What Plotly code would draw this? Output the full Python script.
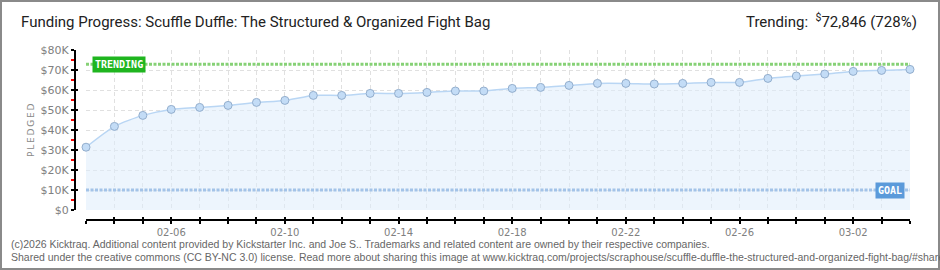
import plotly.graph_objects as go
import pandas as pd

# ---- data ----
dates = pd.date_range("2026-02-03", "2026-03-04", freq="D")
pledged = [31400, 41800, 47300, 50300, 51300, 52300, 53800, 54800, 57300, 57300,
           58300, 58300, 58800, 59500, 59500, 60800, 61300, 62300, 63300, 63300,
           63000, 63300, 63800, 63800, 65800, 67000, 68000, 69300, 69800, 70300]
trending = 72846
goal = 10000
y_ticks = [0, 10000, 20000, 30000, 40000, 50000, 60000, 70000, 80000]
y_labels = ["$0", "$10K", "$20K", "$30K", "$40K", "$50K", "$60K", "$70K", "$80K"]
x_label_dates = ["02-06", "02-10", "02-14", "02-18", "02-22", "02-26", "03-02"]

title_text = "Funding Progress: Scuffle Duffle: The Structured &amp; Organized Fight Bag"
trend_text = "Trending:  <sup>$</sup>72,846 (728%)"
footer1 = ("(c)2026 Kicktraq. Additional content provided by Kickstarter Inc. and Joe S.. "
           "Trademarks and related content are owned by their respective companies.")
footer2 = ("Shared under the creative commons (CC BY-NC 3.0) license. Read more about sharing "
           "this image at www.kicktraq.com/projects/scraphouse/scuffle-duffle-the-structured-and-organized-fight-bag/#share")

W, H = 940, 270
ML, MR, MT, MB = 75, 30, 50, 50
pw, ph = W - ML - MR, H - MT - MB
xd0 = 11 / pw
yd0 = 10 / ph


def px_x(x):
    return (x - ML) / pw


def px_y(y):
    return (H - MB - y) / ph


ticktext = [d.strftime("%m-%d") if d.strftime("%m-%d") in x_label_dates else "" for d in dates]

fig = go.Figure()

# main series
fig.add_trace(go.Scatter(
    x=dates, y=pledged, mode="lines+markers",
    line=dict(color="#b9d6f4", width=1.5, shape="spline", smoothing=0.6),
    fill="tozeroy", fillcolor="rgba(222,236,251,0.55)",
    marker=dict(size=8, color="#c3dcf6", line=dict(color="#93aecd", width=1)),
    cliponaxis=False, hoverinfo="skip", showlegend=False))

# trending line
fig.add_trace(go.Scatter(
    x=[dates[0], dates[-1]], y=[trending, trending], mode="lines",
    line=dict(color="#86d176", width=3, dash="3px,1.5px"),
    hoverinfo="skip", showlegend=False))
# goal line
fig.add_trace(go.Scatter(
    x=[dates[0], dates[-1]], y=[goal, goal], mode="lines",
    line=dict(color="#a3c3e8", width=3, dash="3px,1.5px"),
    hoverinfo="skip", showlegend=False))

grid = "#e0e0e0"
fig.update_layout(
    width=W, height=H, margin=dict(l=ML, r=MR, t=MT, b=MB),
    paper_bgcolor="white", plot_bgcolor="white",
    font=dict(family="Roboto, DejaVu Sans", color="#777777"),
    xaxis=dict(
        type="date", domain=[xd0, 1], anchor="free", position=0,
        range=[dates[0], dates[-1]],
        tickvals=list(dates), ticktext=ticktext,
        ticks="outside", ticklen=3, tickwidth=1.5, tickcolor="black",
        showline=True, linecolor="black", linewidth=2,
        showgrid=True, gridcolor=grid, griddash="4px,3px", gridwidth=1,
        tickfont=dict(size=10, color="#808080", family="DejaVu Sans"),
        zeroline=False, fixedrange=True),
    yaxis=dict(
        domain=[yd0, 1], anchor="free", position=0,
        range=[0, 80000], tickvals=y_ticks, ticktext=y_labels,
        ticks="outside", ticklen=3, tickwidth=1.5, tickcolor="black",
        minor=dict(dtick=5000, ticks="outside", ticklen=3, tickcolor="#ff0000", tickwidth=1.5, showgrid=False),
        showline=True, linecolor="black", linewidth=2,
        showgrid=True, gridcolor=grid, griddash="4px,3px", gridwidth=1,
        tickfont=dict(size=11, color="#808080", family="DejaVu Sans"),
        zeroline=False, fixedrange=True),
    # overlay axes giving the inner half of crossing ticks
    xaxis2=dict(
        type="date", overlaying="x", anchor="free", position=0, domain=[xd0, 1],
        range=[dates[0], dates[-1]], tickvals=list(dates), ticktext=[""] * len(dates),
        ticks="inside", ticklen=3, tickwidth=1.5, tickcolor="black",
        showgrid=False, zeroline=False, showline=False, showticklabels=False),
    yaxis2=dict(
        overlaying="y", anchor="free", position=0, domain=[yd0, 1],
        range=[0, 80000], tickvals=y_ticks,
        ticks="inside", ticklen=2, tickwidth=1.5, tickcolor="black",
        showgrid=False, zeroline=False, showline=False, showticklabels=False),
)
# dummy trace to activate overlay axes
fig.add_trace(go.Scatter(x=[dates[0]], y=[None], xaxis="x2", yaxis="y2",
                         showlegend=False, hoverinfo="skip"))

annots = []
annots.append(dict(text=title_text, xref="paper", yref="paper",
                   x=px_x(19), y=px_y(22), yanchor="middle",
                   xanchor="left", showarrow=False,
                   font=dict(size=15, color="#222222", family="Roboto")))
annots.append(dict(text=trend_text, xref="paper", yref="paper",
                   x=px_x(919), y=px_y(21), yanchor="middle",
                   xanchor="right", showarrow=False,
                   font=dict(size=15, color="#222222", family="Roboto")))
annots.append(dict(text="P\u2009L\u2009E\u2009D\u2009G\u2009E\u2009D", xref="paper", yref="paper",
                   x=px_x(31), y=px_y(130), textangle=-90, xanchor="center", yanchor="middle",
                   showarrow=False, font=dict(size=9, color="#888888", family="DejaVu Sans")))
annots.append(dict(text="<b>TRENDING</b>", x=dates[0], y=trending, xref="x", yref="y",
                   xanchor="left", yanchor="middle", xshift=6, showarrow=False,
                   bgcolor="#1fb51f", borderpad=2,
                   font=dict(size=10, color="white", family="DejaVu Sans Mono")))
annots.append(dict(text="<b>GOAL</b>", x=dates[-1], y=goal, xref="x", yref="y",
                   xanchor="right", yanchor="middle", xshift=-5, showarrow=False,
                   bgcolor="#5b9ada", borderpad=2,
                   font=dict(size=10, color="white", family="DejaVu Sans Mono")))
annots.append(dict(text=footer1, xref="paper", yref="paper",
                   x=px_x(9), y=px_y(244), yanchor="middle",
                   xanchor="left", showarrow=False,
                   font=dict(size=10.5, color="#666666", family="Liberation Sans")))
annots.append(dict(text=footer2, xref="paper", yref="paper",
                   x=px_x(9), y=px_y(257), yanchor="middle",
                   xanchor="left", showarrow=False,
                   font=dict(size=10.5, color="#666666", family="Liberation Sans")))
fig.update_layout(annotations=annots)

# outer frame
fig.add_shape(type="rect", xref="paper", yref="paper",
              x0=px_x(1), x1=px_x(W - 1), y0=px_y(H - 1), y1=px_y(1),
              line=dict(color="#8a8a8a", width=2), fillcolor="rgba(0,0,0,0)", layer="above")

fig.write_html("out.html")
